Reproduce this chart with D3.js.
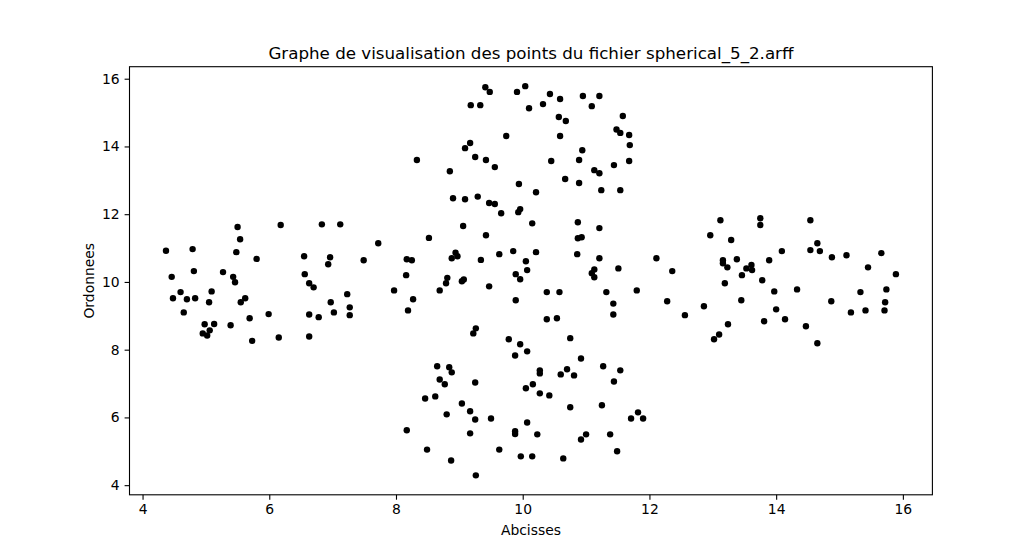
<!DOCTYPE html>
<html>
<head>
<meta charset="utf-8">
<script src="https://cdn.jsdelivr.net/npm/d3@7"></script>
<style>
  body { margin: 0; background: #fff; }
  svg { display: block; }
  text { font-family: "DejaVu Sans", sans-serif; }
</style>
</head>
<body>
<div class="chart-scatter"></div>
<script>
// points [abscisse, ordonnee]
const zoneGauche = [
    [5.50, 11.62], [5.54, 11.26], [4.37, 10.92], [4.79, 10.97], [5.48, 10.88], [5.80, 10.68],
    [4.46, 10.15], [4.81, 10.32], [5.27, 10.29], [5.43, 10.15], [5.46, 9.99], [4.60, 9.70],
    [4.48, 9.52], [4.70, 9.49], [4.83, 9.52], [5.09, 9.72], [5.05, 9.40], [5.62, 9.52],
    [5.55, 9.40], [4.65, 9.10], [5.99, 9.05], [5.69, 8.93], [4.98, 8.75], [5.13, 8.76],
    [5.39, 8.72], [5.06, 8.57], [4.95, 8.48], [5.02, 8.42], [5.73, 8.26],
    [6.18, 11.68], [6.83, 11.70], [7.12, 11.70], [7.72, 11.14], [6.55, 10.76], [6.96, 10.73],
    [6.93, 10.52], [7.49, 10.64], [8.17, 10.67], [8.16, 10.20], [6.56, 10.23], [6.63, 9.96],
    [6.70, 9.84], [7.23, 9.64], [7.97, 9.75], [6.97, 9.40], [7.27, 9.25], [6.63, 9.04],
    [6.78, 8.96], [7.02, 9.10], [7.27, 9.02], [8.19, 9.16], [6.15, 8.36], [6.63, 8.39],
];

const zoneHaut = [
    [9.41, 15.75], [9.48, 15.61], [9.91, 15.61], [10.04, 15.78], [9.18, 15.22], [9.33, 15.22],
    [10.10, 15.13], [9.74, 14.31], [9.17, 14.10], [9.09, 13.95], [9.25, 13.69], [9.42, 13.60],
    [9.56, 13.39], [8.33, 13.60], [8.85, 13.27], [9.94, 12.89],
    [10.43, 15.55], [10.59, 15.40], [10.32, 15.25], [10.95, 15.49], [11.21, 15.49], [11.09, 15.19],
    [10.57, 14.87], [10.68, 14.75], [11.58, 14.90], [10.59, 14.31], [11.48, 14.50], [11.54, 14.40],
    [11.68, 14.34], [11.69, 14.04], [10.94, 13.89], [10.45, 13.57], [10.89, 13.60], [11.68, 13.57],
    [11.44, 13.45], [11.13, 13.30], [11.21, 13.21], [10.67, 13.04], [10.89, 12.92], [10.21, 12.65],
    [11.24, 12.71], [11.54, 12.71],
    [8.90, 12.47], [9.09, 12.44], [9.29, 12.52], [9.47, 12.33], [9.56, 12.30],
];

const zoneCentre = [
    [9.66, 12.03], [9.96, 12.15], [9.93, 12.06], [9.06, 11.65], [8.52, 11.30], [9.42, 11.38],
    [8.25, 10.64], [8.94, 10.86], [8.97, 10.76], [8.88, 10.70], [9.34, 10.65], [9.63, 10.82],
    [9.85, 10.91], [10.05, 10.61], [10.07, 10.35], [8.81, 10.12], [8.79, 9.96], [9.04, 10.02],
    [9.07, 10.07], [8.69, 9.75], [9.47, 9.87], [9.89, 10.23], [9.96, 10.08], [8.27, 9.49],
    [9.89, 9.46],
    [10.15, 11.73], [10.87, 11.76], [11.21, 11.59], [10.87, 11.29], [10.93, 11.32], [10.21, 10.88],
    [10.86, 10.82], [11.21, 10.70], [12.11, 10.70], [11.13, 10.37], [11.09, 10.26], [11.13, 10.14],
    [11.51, 10.40], [10.38, 9.70], [10.58, 9.70], [11.32, 9.70], [11.80, 9.75], [11.43, 9.36],
    [12.28, 9.43], [11.43, 9.04], [10.38, 8.90], [10.54, 8.93],
];

const zoneBas = [
    [9.26, 8.63], [9.22, 8.48], [9.78, 8.31], [9.96, 8.16], [9.88, 7.83], [10.07, 7.95],
    [8.65, 7.51], [8.84, 7.48], [8.88, 7.33], [8.69, 7.12], [8.77, 6.98], [9.25, 7.03],
    [10.05, 6.86], [8.46, 6.56], [8.62, 6.62], [9.04, 6.41], [9.17, 6.18], [8.80, 6.09],
    [9.25, 5.94], [9.50, 5.97], [8.17, 5.62], [9.17, 5.53], [9.88, 5.59], [9.88, 5.51],
    [10.07, 5.85], [8.49, 5.05], [8.87, 4.73], [9.63, 5.05], [9.97, 4.85], [9.26, 4.29],
    [10.75, 8.34], [10.92, 7.74], [11.27, 7.51], [11.54, 7.39], [11.44, 7.06], [10.27, 7.39],
    [10.27, 7.30], [10.60, 7.27], [10.70, 7.42], [10.81, 7.24], [10.16, 6.98], [10.27, 6.71],
    [10.42, 6.65], [10.75, 6.30], [11.25, 6.36], [11.71, 5.97], [11.82, 6.15], [11.90, 5.97],
    [10.23, 5.50], [10.92, 5.35], [11.00, 5.50], [11.38, 5.50], [11.49, 5.00], [10.15, 4.85],
    [10.64, 4.79],
];

const zoneDroite = [
    [13.12, 11.82], [13.75, 11.88], [13.75, 11.68], [12.96, 11.38], [13.29, 11.24], [12.36, 10.32],
    [13.16, 10.64], [13.16, 10.55], [13.23, 10.43], [13.38, 10.67], [13.61, 10.50], [13.53, 10.40],
    [13.62, 10.35], [13.46, 10.20], [13.89, 10.64], [14.09, 10.91], [13.19, 9.96], [13.78, 10.05],
    [13.97, 9.72], [12.86, 9.28], [13.45, 9.46], [12.56, 9.02], [14.00, 9.19], [14.14, 8.90],
    [13.81, 8.84], [13.24, 8.75], [13.10, 8.45], [13.02, 8.31],
    [14.54, 11.82], [14.65, 11.14], [14.54, 10.94], [14.69, 10.91], [14.88, 10.73], [15.11, 10.79],
    [15.66, 10.85], [15.45, 10.43], [15.89, 10.23], [14.33, 9.78], [15.33, 9.70], [15.74, 9.78],
    [15.72, 9.40], [15.71, 9.16], [15.41, 9.16], [15.18, 9.10], [14.87, 9.43], [14.47, 8.69],
    [14.65, 8.19],
];

const ticksX = [4, 6, 8, 10, 12, 14, 16];
const ticksY = [4, 6, 8, 10, 12, 14, 16];

const titre = 'Graphe de visualisation des points du fichier spherical_5_2.arff';
const labelX = 'Abcisses';
const labelY = 'Ordonnees';

function scatterChart() {
    const w = 1036;
    const h = 556;
    const margin = { top: 66.7, right: 103.6, bottom: 61.2, left: 129.5 };
    const innerW = w - margin.left - margin.right;
    const innerH = h - margin.top - margin.bottom;

    const points = [...zoneGauche, ...zoneHaut, ...zoneCentre, ...zoneBas, ...zoneDroite];

    // marges automatiques a 5% comme matplotlib
    const pad = (ext) => {
        const m = (ext[1] - ext[0]) * 0.05;
        return [ext[0] - m, ext[1] + m];
    };

    const x = d3.scaleLinear()
        .domain(pad(d3.extent(points, (d) => d[0])))
        .range([0, innerW]);
    const y = d3.scaleLinear()
        .domain(pad(d3.extent(points, (d) => d[1])))
        .range([innerH, 0]);

    const svg = d3.select('.chart-scatter')
        .append('svg')
        .attr('width', w)
        .attr('height', h);

    svg.append('rect').attr('width', w).attr('height', h).attr('fill', '#fff');

    const g = svg.append('g')
        .attr('transform', `translate(${margin.left},${margin.top})`);

    g.selectAll('.point')
        .data(points)
        .enter()
        .append('circle')
        .attr('class', 'point')
        .attr('cx', (d) => x(d[0]))
        .attr('cy', (d) => y(d[1]))
        .attr('r', 3.2)
        .attr('fill', '#000');

    const axisX = g.append('g')
        .attr('transform', `translate(0,${innerH})`)
        .call(d3.axisBottom(x).tickValues(ticksX).tickSize(4.9).tickPadding(4.9).tickFormat(d3.format('d')));
    const axisY = g.append('g')
        .call(d3.axisLeft(y).tickValues(ticksY).tickSize(4.9).tickPadding(4.9).tickFormat(d3.format('d')));

    [axisX, axisY].forEach((a) => {
        a.select('.domain').remove();
        a.selectAll('line').attr('stroke', '#000').attr('stroke-width', 1.1);
        a.selectAll('text').attr('fill', '#000').style('font-size', '13.9px');
    });

    g.append('rect')
        .attr('width', innerW)
        .attr('height', innerH)
        .attr('fill', 'none')
        .attr('stroke', '#000')
        .attr('stroke-width', 1.1);

    svg.append('text')
        .attr('x', margin.left + innerW / 2)
        .attr('y', 59)
        .attr('text-anchor', 'middle')
        .style('font-size', '16.7px')
        .text(titre);

    svg.append('text')
        .attr('x', margin.left + innerW / 2)
        .attr('y', 535)
        .attr('text-anchor', 'middle')
        .style('font-size', '13.9px')
        .text(labelX);

    svg.append('text')
        .attr('transform', `translate(94,${margin.top + innerH / 2}) rotate(-90)`)
        .attr('text-anchor', 'middle')
        .style('font-size', '13.9px')
        .text(labelY);
}

scatterChart();
</script>
</body>
</html>
